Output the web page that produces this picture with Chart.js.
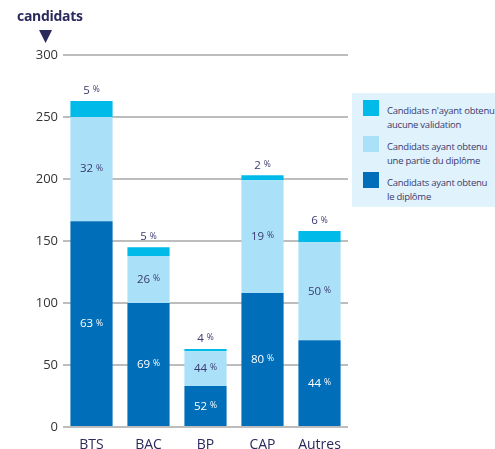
<!DOCTYPE html>
<html>
<head>
<meta charset="utf-8">
<script src="https://cdn.jsdelivr.net/npm/chart.js@4"></script>
<style>
  body { margin: 0; background: #fff; font-family: 'Open Sans', sans-serif; }
  #wrap { position: relative; width: 495px; height: 449px; }
  #titre { position: absolute; left: 17px; top: 6px; font: bold 14px 'Open Sans', sans-serif; color: #2b2a5c; letter-spacing: -0.3px; }
  #fleche { position: absolute; left: 39px; top: 25px; font: 17px 'DejaVu Sans', sans-serif; color: #2b2a5c; }
  #legende { position: absolute; left: 352px; top: 93px; width: 143px; height: 114px; background: #e0f2fc; overflow: hidden; }
  .leg { position: absolute; left: 11px; display: flex; gap: 8px; white-space: nowrap; }
  .leg span.sw { width: 16px; height: 16px; flex-shrink: 0; }
  .leg span.tx { font-size: 9.5px; line-height: 13.5px; margin-top: 4px; color: #3b3a6e; letter-spacing: -0.25px; }
</style>
</head>
<body>
<div id="wrap">
  <canvas id="c" width="495" height="449"></canvas>
  <div id="titre">candidats</div>
  <div id="fleche">▼</div>
  <div id="legende"></div>
</div>
<script>
const categories = ['BTS', 'BAC', 'BP', 'CAP', 'Autres'];
const diplome    = [166, 100, 33, 108, 70];
const partie     = [84, 38, 28, 91, 79];
const aucune     = [13, 7, 2, 4, 9];
const pctDiplome = [63, 69, 52, 80, 44];
const pctPartie  = [32, 26, 44, 19, 50];
const pctAucune  = [5, 5, 4, 2, 6];
const yTicks     = [0, 50, 100, 150, 200, 250, 300];

const COLORS = { aucune: '#00bbea', partie: '#aae0f8', diplome: '#006eb8' };
const LEG = [
  { c: COLORS.aucune,  t: "Candidats n'ayant obtenu<br>aucune validation" },
  { c: COLORS.partie,  t: 'Candidats ayant obtenu<br>une partie du diplôme' },
  { c: COLORS.diplome, t: 'Candidats ayant obtenu<br>le diplôme' },
];
document.getElementById('legende').innerHTML = LEG.map((l, i) => `
  <div class="leg" style="top:${7 + i * 36}px">
    <span class="sw" style="background:${l.c}"></span>
    <span class="tx">${l.t}</span>
  </div>`).join('');

function drawPct(ctx, x, y, n, color) {
  ctx.fillStyle = color;
  ctx.textBaseline = 'middle';
  ctx.font = '11.5px "Open Sans", sans-serif';
  const w1 = ctx.measureText(String(n)).width;
  ctx.font = '8.5px "Open Sans", sans-serif';
  const w2 = ctx.measureText('%').width;
  const x0 = x - (w1 + 3 + w2) / 2;
  ctx.textAlign = 'left';
  ctx.font = '11.5px "Open Sans", sans-serif';
  ctx.fillText(String(n), x0, y);
  ctx.font = '8.5px "Open Sans", sans-serif';
  ctx.fillText('%', x0 + w1 + 3, y - 1);
}

const pctLabels = {
  id: 'pctLabels',
  afterDatasetsDraw(chart) {
    const ctx = chart.ctx;
    const y = chart.scales.y;
    ctx.save();
    categories.forEach((_, i) => {
      const x = chart.getDatasetMeta(0).data[i].x;
      const b0 = diplome[i], b1 = b0 + partie[i], b2 = b1 + aucune[i];
      drawPct(ctx, x, (y.getPixelForValue(0) + y.getPixelForValue(b0)) / 2, pctDiplome[i], '#ffffff');
      drawPct(ctx, x, (y.getPixelForValue(b0) + y.getPixelForValue(b1)) / 2, pctPartie[i], '#3b3a6e');
      drawPct(ctx, x, y.getPixelForValue(b2) - 10, pctAucune[i], '#3b3a6e');
    });
    ctx.restore();
  },
};

new Chart(document.getElementById('c'), {
  type: 'bar',
  data: {
    labels: categories,
    datasets: [
      { label: 'diplome', data: diplome, backgroundColor: COLORS.diplome },
      { label: 'partie',  data: partie,  backgroundColor: COLORS.partie },
      { label: 'aucune',  data: aucune,  backgroundColor: COLORS.aucune },
    ],
  },
  options: {
    responsive: false,
    animation: false,
    layout: { padding: { top: 55, right: 147, left: 0, bottom: 0 } },
    datasets: { bar: { categoryPercentage: 1, barPercentage: 0.74, borderWidth: 0 } },
    plugins: { legend: { display: false }, tooltip: { enabled: false } },
    scales: {
      x: {
        stacked: true,
        grid: { display: false },
        border: { display: false },
        ticks: { color: '#2b2a5c', font: { size: 14, family: 'Open Sans' }, padding: 2 },
        afterFit: s => { s.height = 22; },
      },
      y: {
        stacked: true,
        min: 0, max: 300,
        afterBuildTicks: s => { s.ticks = yTicks.map(v => ({ value: v })); },
        grid: { color: '#bdbdbd', lineWidth: 2, drawTicks: false },
        border: { display: false },
        ticks: { color: '#333', font: { size: 13, family: 'Open Sans' }, padding: 5 },
        afterFit: s => { s.width = 63; },
      },
    },
  },
  plugins: [pctLabels],
});
</script>
</body>
</html>
